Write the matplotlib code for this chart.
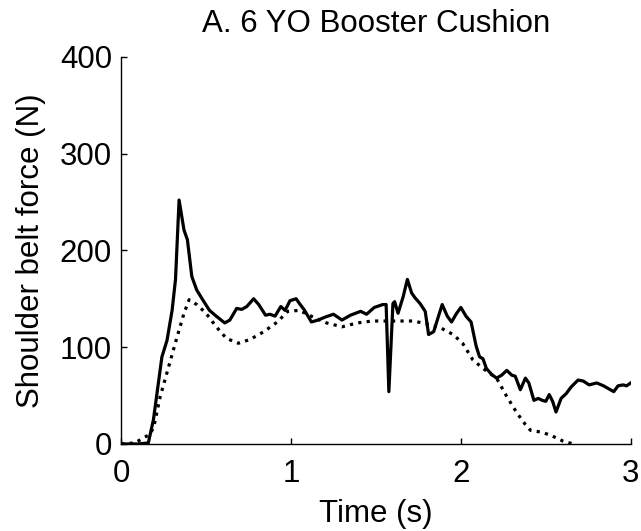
import matplotlib

matplotlib.use("Agg")
import matplotlib.pyplot as plt

# solid trace
solid_t = [0, 0.10, 0.16, 0.19, 0.24, 0.27, 0.30, 0.32, 0.341, 0.37, 0.39, 0.416, 0.445,
           0.48, 0.52, 0.56, 0.61, 0.64, 0.68, 0.71, 0.74, 0.78, 0.81, 0.85, 0.876, 0.906,
           0.94, 0.965, 0.994, 1.03, 1.05, 1.08, 1.12, 1.16, 1.20, 1.25, 1.30, 1.35, 1.41,
           1.445, 1.49, 1.54, 1.56, 1.576, 1.60, 1.61, 1.63, 1.66, 1.685, 1.71, 1.73, 1.76,
           1.79, 1.81, 1.84, 1.87, 1.89, 1.92, 1.945, 1.975, 2.00, 2.03, 2.06, 2.09, 2.11,
           2.13, 2.15, 2.18, 2.21, 2.24, 2.27, 2.30, 2.32, 2.35, 2.38, 2.40, 2.43, 2.455,
           2.48, 2.50, 2.52, 2.54, 2.56, 2.59, 2.62, 2.65, 2.69, 2.72, 2.755, 2.80, 2.84,
           2.87, 2.90, 2.925, 2.955, 2.975, 3.0]
solid_f = [0, 0, 1, 25, 90, 107, 138, 170, 252, 221, 211, 173, 159,
           149, 138, 132, 125, 128, 140, 139, 142, 150, 144, 133, 134, 132,
           142, 138, 148, 150, 145, 138, 126, 128, 131, 134, 128, 133, 137,
           134, 141, 144, 144, 54, 145, 147, 135, 152, 170, 156, 151, 145,
           137, 113, 116, 133, 144, 132, 126, 135, 141, 132, 126, 101, 90,
           88, 78, 72, 68, 71, 76, 71, 70, 56, 68, 63, 45, 47,
           45, 44, 51, 44, 33, 47, 52, 59, 66, 65, 61, 63, 60,
           57, 54, 60, 61, 60, 63]

# dotted trace
dotted_t = [0, 0.08, 0.13, 0.16, 0.19, 0.23, 0.28, 0.33, 0.37, 0.40, 0.445, 0.50, 0.56,
            0.62, 0.69, 0.76, 0.84, 0.92, 0.98, 1.05, 1.13, 1.21, 1.30, 1.39, 1.48, 1.60,
            1.72, 1.80, 1.88, 1.955, 2.01, 2.07, 2.13, 2.21, 2.27, 2.33, 2.38, 2.41, 2.48,
            2.54, 2.60, 2.66]
dotted_f = [0, 1, 6, 9, 16, 49, 80, 111, 135, 149, 144, 135, 121,
            109, 104, 108, 116, 126, 137, 138, 131, 125, 121, 125, 127, 127,
            127, 124, 120, 113, 104, 87, 78, 68, 49, 32, 20, 14, 12,
            8, 3, 0]

x_ticks = [0, 1, 2, 3]
y_ticks = [0, 100, 200, 300, 400]

plt.rcParams["font.family"] = ["Liberation Sans", "DejaVu Sans"]
FS = 22.5

fig = plt.figure(figsize=(6.41, 5.31), dpi=100)
ax = fig.add_axes([0.189, 0.164, 0.795, 0.729])

ax.plot(solid_t, solid_f, color="black", lw=2.3, solid_joinstyle="round")
ax.plot(dotted_t, dotted_f, color="black", lw=2.3, linestyle=":")

ax.set_xlim(0, 3)
ax.set_ylim(0, 400)
ax.set_xticks(x_ticks)
ax.set_yticks(y_ticks)
ax.spines[["top", "right"]].set_visible(False)
for side in ("left", "bottom"):
    ax.spines[side].set_linewidth(1.0)
ax.tick_params(direction="in", length=4, width=1.0, labelsize=FS)
ax.tick_params(axis="x", pad=11)
ax.tick_params(axis="y", pad=6.5)

ax.set_xlabel("Time (s)", fontsize=FS, labelpad=7)
ax.set_ylabel("Shoulder belt force (N)", fontsize=FS, labelpad=10)
ax.set_title("A. 6 YO Booster Cushion", fontsize=FS, pad=18)

fig.savefig("out.png", dpi=100)
